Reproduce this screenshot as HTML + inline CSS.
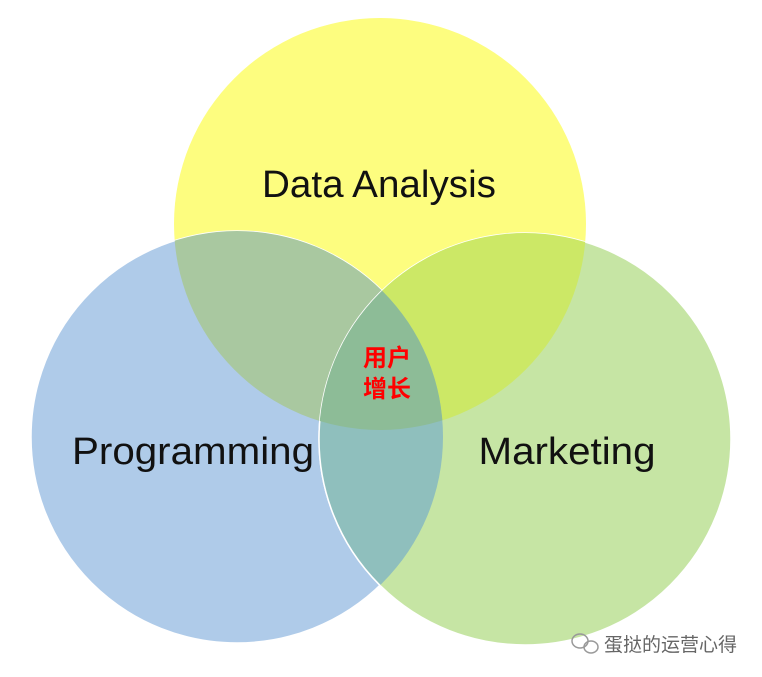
<!DOCTYPE html>
<html><head><meta charset="utf-8"><style>
html,body{margin:0;padding:0;background:#fff;width:762px;height:677px;overflow:hidden}
</style></head><body>
<svg width="762" height="677" viewBox="0 0 762 677" xmlns="http://www.w3.org/2000/svg">
<defs>
<clipPath id="cy"><circle cx="380" cy="224" r="206"/></clipPath>
<clipPath id="cb"><circle cx="237" cy="437" r="206"/></clipPath>
<clipPath id="cg"><circle cx="525" cy="439" r="206"/></clipPath>
</defs>
<rect width="762" height="677" fill="#fff"/>
<circle cx="380" cy="224" r="206" fill="#fdfd7f"/>
<circle cx="237" cy="437" r="206" fill="#afcbe9" stroke="#fff" stroke-width="1.5"/>
<circle cx="525" cy="439" r="206" fill="#c6e5a4" stroke="#fff" stroke-width="1.5"/>
<g clip-path="url(#cy)">
<circle cx="237" cy="437" r="206" fill="#a9c8a0"/>
<circle cx="525" cy="439" r="206" fill="#cce866"/>
</g>
<g clip-path="url(#cb)">
<circle cx="525" cy="439" r="206" fill="#8fbfbd" stroke="#fff" stroke-width="1.5"/>
<g clip-path="url(#cy)"><circle cx="525" cy="439" r="206" fill="#8dbc97"/></g>
</g>
<g font-family="Liberation Sans, sans-serif" font-size="38" fill="#111" text-anchor="middle" lengthAdjust="spacingAndGlyphs">
<text x="379" y="197" textLength="234" lengthAdjust="spacingAndGlyphs">Data Analysis</text>
<text x="193" y="464" textLength="242" lengthAdjust="spacingAndGlyphs">Programming</text>
<text x="567" y="464" textLength="177" lengthAdjust="spacingAndGlyphs">Marketing</text>
</g>
<g font-family="Liberation Sans, 'Noto Sans CJK SC', sans-serif" font-size="24" font-weight="bold" fill="#f00" text-anchor="middle">
<text x="387" y="366">用户</text>
<text x="387" y="397">增长</text>
</g>
<g fill="none" stroke="#999" stroke-width="1.5">
<ellipse cx="580" cy="641" rx="8" ry="7"/>
<ellipse cx="591" cy="647" rx="7" ry="6"/>
</g>
<text x="604" y="651" font-family="'Noto Sans CJK SC', sans-serif" font-size="19" fill="#666">蛋挞的运营心得</text>
</svg>
</body></html>
